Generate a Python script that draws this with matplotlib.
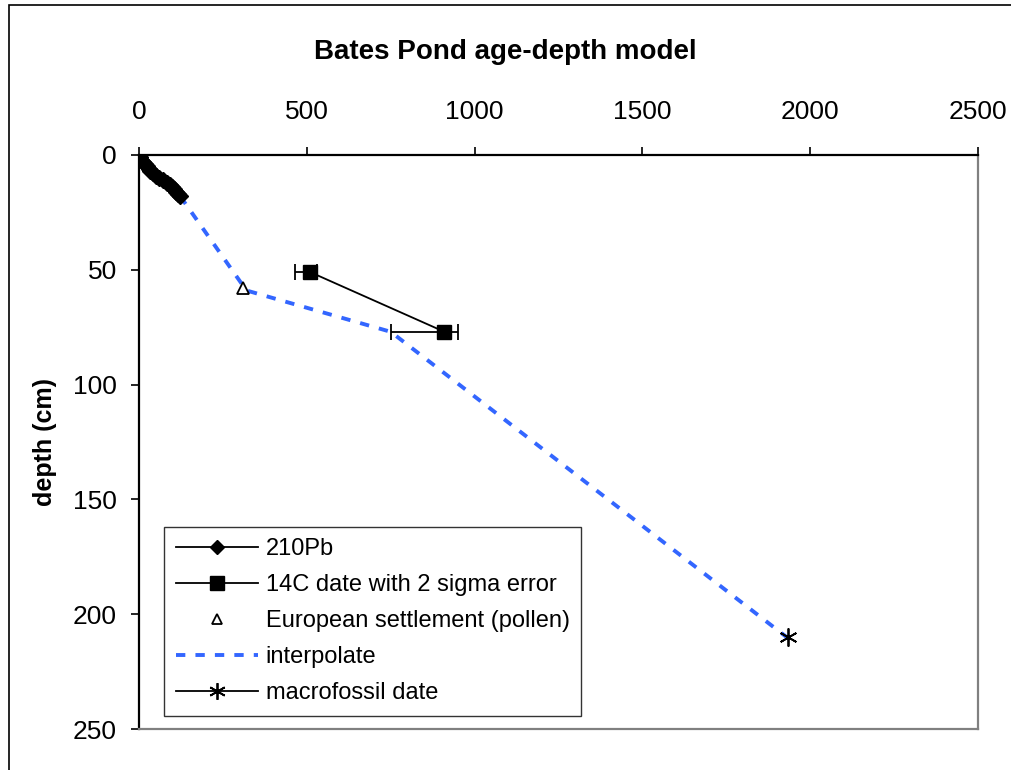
import matplotlib
matplotlib.use("Agg")
import matplotlib.pyplot as plt
from matplotlib.patches import Rectangle
from matplotlib.lines import Line2D

plt.rcParams['font.family'] = ['Liberation Sans', 'DejaVu Sans']

# ---- data ----
pb_age = [0, 3, 7, 12, 18, 24, 29, 34, 42, 51, 60, 72, 84, 92, 99, 105, 111, 117, 123]
pb_depth = [0, 1, 2, 3, 4, 5, 6, 7, 8, 9, 10, 11, 12, 13, 14, 15, 16, 17, 18]

c14_age = [510, 910]
c14_depth = [51, 77]
c14_err_lo = [45, 160]
c14_err_hi = [20, 40]

euro_age = [310]
euro_depth = [58]

interp_age = [123, 320, 750, 1930]
interp_depth = [18, 59, 77, 210]

macro_age = [1935]
macro_depth = [210]

x_ticks = [0, 500, 1000, 1500, 2000, 2500]
y_ticks = [0, 50, 100, 150, 200, 250]

# ---- figure ----
fig = plt.figure(figsize=(10.12, 7.70), dpi=100)
fig.patches.append(Rectangle((9 / 1012, -0.1), 1.2, 1 - 5 / 770 + 0.1,
                             transform=fig.transFigure, fill=False,
                             edgecolor='black', linewidth=1.2, zorder=0))

ax = fig.add_axes([139 / 1012, 1 - 729 / 770, (978 - 139) / 1012, (729 - 155) / 770])

blue = '#3366FF'
ax.plot(interp_age, interp_depth, color=blue, linewidth=2.8,
        dashes=(2.4, 2.6), zorder=2)
ax.plot(pb_age, pb_depth, color='black', linewidth=1.3, marker='D',
        markersize=8, zorder=4)
ax.errorbar(c14_age, c14_depth, xerr=[c14_err_lo, c14_err_hi], color='black',
            linewidth=1.3, marker='s', markersize=10, capsize=6, capthick=1.3,
            elinewidth=1.3, zorder=4)
ax.plot(euro_age, euro_depth, linestyle='none', marker='^', markersize=8,
        markerfacecolor='white', markeredgecolor='black', markeredgewidth=1.3,
        zorder=5)
ax.plot(macro_age, macro_depth, linestyle='none', marker=(6, 2, 0),
        markersize=13, color='black', markeredgewidth=1.3, zorder=5)

ax.set_xlim(0, 2500)
ax.set_ylim(250, 0)
ax.xaxis.tick_top()
ax.set_xticks(x_ticks)
ax.set_yticks(y_ticks)
ax.tick_params(axis='x', which='both', direction='out', length=6, width=1.2,
               labelsize=19, pad=16, top=True, bottom=False)
ax.tick_params(axis='y', direction='out', length=6, width=1.2,
               labelsize=19, pad=10)
for s in ['left', 'top']:
    ax.spines[s].set_color('black')
    ax.spines[s].set_linewidth(1.6)
for s in ['right', 'bottom']:
    ax.spines[s].set_color('#808080')
    ax.spines[s].set_linewidth(1.6)

ax.set_ylabel('depth (cm)', fontsize=18, fontweight='bold', labelpad=11)
fig.text(505 / 1012, 1 - 52 / 770, 'Bates Pond age-depth model', fontsize=20,
         fontweight='bold', ha='center', va='center')

handles = [
    Line2D([], [], color='black', linewidth=1.3, marker='D', markersize=7),
    Line2D([], [], color='black', linewidth=1.3, marker='s', markersize=10),
    Line2D([], [], linestyle='none', marker='^', markersize=7,
           markerfacecolor='white', markeredgecolor='black', markeredgewidth=1.3),
    Line2D([], [], color=blue, linewidth=2.8, dashes=(2.4, 2.6)),
    Line2D([], [], color='black', linewidth=1.3, marker=(6, 2, 0), markersize=12,
           markeredgewidth=1.3),
]
labels = ['210Pb', '14C date with 2 sigma error', 'European settlement (pollen)',
          'interpolate', 'macrofossil date']
leg = ax.legend(handles, labels, loc='lower left',
                bbox_to_anchor=((164 - 139) / 839, (729 - 716) / 574),
                fontsize=17, frameon=True, fancybox=False, edgecolor='black',
                handlelength=3.5, handletextpad=0.3, labelspacing=0.59,
                borderpad=0.5, borderaxespad=0)
leg.get_frame().set_linewidth(1.0)

fig.savefig('out.png', dpi=100)
